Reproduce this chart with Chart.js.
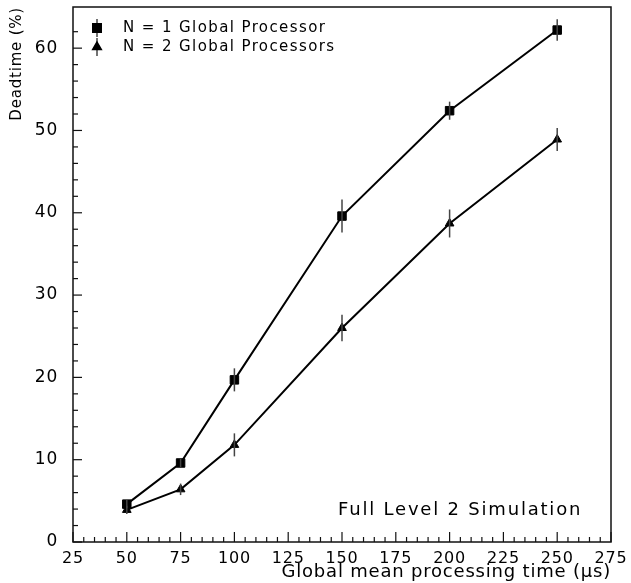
<!DOCTYPE html>
<html>
<head>
<meta charset="utf-8">
<script src="https://cdn.jsdelivr.net/npm/chart.js@4.4.0/dist/chart.umd.min.js"></script>
<style>
  html, body { margin: 0; padding: 0; background: #fff; }
  #wrap { width: 631px; height: 583px; }
</style>
</head>
<body>
<div id="wrap"><canvas id="deadChart" width="631" height="583"></canvas></div>
<script>
const times = [50, 75, 100, 150, 200, 250];
const deadOne = [4.6, 9.6, 19.7, 39.6, 52.4, 62.2];
const errOne = [0.5, 0.5, 1.4, 2.0, 1.1, 1.3];
const deadTwo = [3.9, 6.4, 11.8, 26.0, 38.7, 48.9];
const errTwo = [0.5, 0.7, 1.4, 1.6, 1.7, 1.4];
const seriesLabels = ['N = 1 Global Processor', 'N = 2 Global Processors'];
const noteText = 'Full Level 2 Simulation';

const FONT = '"DejaVu Sans", sans-serif';
const errors = [errOne, errTwo];

// frame, inward ticks, error bars, legend and note
const decor = {
    id: 'decor',
    beforeDraw(chart) {
        chart.ctx.letterSpacing = '0.8px';
    },
    afterDatasetsDraw(chart) {
        const ctx = chart.ctx;
        const ys = chart.scales.y;
        ctx.save();
        ctx.strokeStyle = '#444';
        ctx.lineWidth = 1.5;
        chart.data.datasets.forEach((ds, i) => {
            const meta = chart.getDatasetMeta(i);
            meta.data.forEach((pt, j) => {
                const v = ds.data[j].y, e = errors[i][j];
                ctx.beginPath();
                ctx.moveTo(pt.x, ys.getPixelForValue(v + e));
                ctx.lineTo(pt.x, ys.getPixelForValue(v - e));
                ctx.stroke();
            });
        });
        ctx.restore();
    },
    afterDraw(chart) {
        const ctx = chart.ctx;
        const a = chart.chartArea;
        const xs = chart.scales.x, ys = chart.scales.y;
        ctx.save();
        ctx.strokeStyle = '#111';
        ctx.lineWidth = 1.5;
        ctx.strokeRect(a.left, a.top, a.right - a.left, a.bottom - a.top);

        ctx.lineWidth = 1.2;
        xs.ticks.forEach(t => {
            const px = xs.getPixelForValue(t.value);
            const len = t.value % 25 === 0 ? 10 : 5;
            ctx.beginPath();
            ctx.moveTo(px, a.bottom);
            ctx.lineTo(px, a.bottom - len);
            ctx.stroke();
        });
        ys.ticks.forEach(t => {
            if (t.value % 2 !== 0) return;
            const py = ys.getPixelForValue(t.value);
            const len = t.value % 10 === 0 ? 9 : 5;
            ctx.beginPath();
            ctx.moveTo(a.left, py);
            ctx.lineTo(a.left + len, py);
            ctx.stroke();
        });

        // legend
        ctx.textBaseline = 'middle';
        ctx.textAlign = 'left';
        const rows = [28, 47];
        chart.data.datasets.forEach((ds, i) => {
            const cx = 97, cy = rows[i];
            ctx.strokeStyle = '#444';
            ctx.lineWidth = 1.5;
            ctx.beginPath();
            ctx.moveTo(cx, cy - 9);
            ctx.lineTo(cx, cy + 9);
            ctx.stroke();
            ctx.fillStyle = '#000';
            ctx.strokeStyle = '#000';
            Chart.helpers.drawPoint(ctx, {
                pointStyle: ds.pointStyle, radius: ds.pointRadius, borderWidth: 1, rotation: 0
            }, cx, cy);
            ctx.font = '15px ' + FONT;
            ctx.letterSpacing = '1.4px';
            ctx.fillText(ds.label, 123, cy);
        });

        ctx.font = '18px ' + FONT;
        ctx.letterSpacing = '1.8px';
        ctx.fillText(noteText, 338, 510);
        ctx.restore();
    }
};

const ctx = document.getElementById('deadChart').getContext('2d');
new Chart(ctx, {
    type: 'line',
    data: {
        datasets: [
            {
                label: seriesLabels[0],
                data: times.map((t, i) => ({ x: t, y: deadOne[i] })),
                borderColor: '#000', backgroundColor: '#000', borderWidth: 2,
                pointStyle: 'rect', pointRadius: 6, pointBorderWidth: 1, tension: 0
            },
            {
                label: seriesLabels[1],
                data: times.map((t, i) => ({ x: t, y: deadTwo[i] })),
                borderColor: '#000', backgroundColor: '#000', borderWidth: 2,
                pointStyle: 'triangle', pointRadius: 5, pointBorderWidth: 1, tension: 0
            }
        ]
    },
    options: {
        responsive: false,
        animation: false,
        layout: { padding: { top: 5, right: 20, left: 0, bottom: 0 } },
        plugins: { legend: { display: false }, tooltip: { enabled: false } },
        scales: {
            x: {
                type: 'linear', min: 25, max: 275,
                grid: { display: false, drawTicks: false },
                border: { display: false },
                ticks: {
                    stepSize: 5, autoSkip: false, maxRotation: 0, padding: 7,
                    color: '#000', font: { family: FONT, size: 16 },
                    callback: v => v % 25 === 0 ? String(v) : ''
                },
                title: {
                    display: true, align: 'end', text: 'Global mean processing time (\u03bcs)',
                    color: '#000', font: { family: FONT, size: 18 }, padding: { top: 0, bottom: 0 }
                },
                afterFit: s => { s.height = 41; s.paddingLeft = 0; s.paddingRight = 0; }
            },
            y: {
                min: 0, max: 65,
                grid: { display: false, drawTicks: false },
                border: { display: false },
                ticks: {
                    stepSize: 2, autoSkip: false, padding: 15,
                    color: '#000', font: { family: FONT, size: 17 },
                    callback: v => v % 10 === 0 ? String(v) : ''
                },
                title: {
                    display: true, align: 'end', text: 'Deadtime (%)',
                    color: '#000', font: { family: FONT, size: 15 }, padding: { top: 8, bottom: 0 }
                },
                afterFit: s => { s.width = 73; s.paddingTop = 0; s.paddingBottom = 0; }
            }
        }
    },
    plugins: [decor]
});
</script>
</body>
</html>
